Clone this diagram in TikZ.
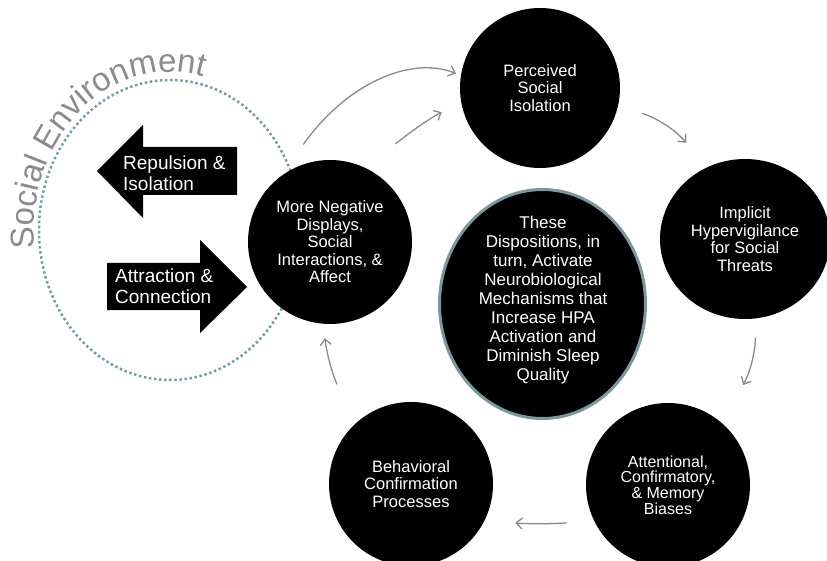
\documentclass[tikz,border=0pt]{standalone}
\usepackage{fontspec}
\setmainfont{Liberation Sans}
\usetikzlibrary{shapes.geometric, arrows.meta, decorations.text}
\definecolor{dotc}{RGB}{122,156,164}
\definecolor{rimc}{RGB}{125,150,155}
\definecolor{connc}{RGB}{138,138,138}
\definecolor{segray}{RGB}{140,140,140}
\begin{document}
\begin{tikzpicture}[x=1pt,y=-1pt,
  bub/.style={ellipse, fill=black, text=white, align=center, inner sep=0pt,
    font=\fontsize{16.5}{17.5}\selectfont},
  conn/.style={draw=connc, line width=1.3pt, -{Straight Barb[length=6pt,width=11pt]}},
  arrtxt/.style={text=white, align=left, inner sep=0pt, font=\fontsize{19}{20.5}\selectfont},
  blk/.style={fill=black}]
\useasboundingbox (0,0) rectangle (827,561);

% social environment dotted boundary
\draw[dotc, line width=2.5pt, dash pattern=on 2.5pt off 2.6pt] (170,230) ellipse [x radius=131, y radius=150];

% curved title
\path[decorate, decoration={text along path, text align=center,
  text={|\fontsize{33}{33}\selectfont\color{segray}|Social Environment}}]
  (36.1,257.4) arc[start angle=-190, end angle=-72, x radius=136, y radius=158];

% block arrows
\fill[blk] (97,171) -- (143,125) -- (143,147) -- (237,147) -- (237,195) -- (143,195) -- (143,218) -- cycle;
\fill[blk] (247,287) -- (200,240) -- (200,263) -- (107,263) -- (107,310) -- (200,310) -- (200,333) -- cycle;
\node[arrtxt, anchor=west] (rep) at (123,173) {Repulsion \&\\Isolation};
\node[arrtxt, anchor=west] (att) at (115,286) {Attraction \&\\Connection};

% circles
\node[bub, minimum width=160pt, minimum height=160pt] (pso) at (540,88) {Perceived\\Social\\Isolation};
\node[bub, minimum width=170pt, minimum height=160pt] (ihv) at (745,239) {Implicit\\Hypervigilance\\for Social\\Threats};
\node[bub, minimum width=164pt, minimum height=164pt, font=\fontsize{16}{15.8}\selectfont] (acm) at (668,485) {Attentional,\\Confirmatory,\\\& Memory\\Biases};
\node[bub, minimum width=164pt, minimum height=164pt] (bcp) at (411,484) {Behavioral\\Confirmation\\Processes};
\node[bub, minimum width=164pt, minimum height=164pt] (mng) at (330,242) {More Negative\\Displays,\\Social\\Interactions, \&\\Affect};

% central ellipse
\node[ellipse, fill=black, draw=rimc, line width=3pt, minimum width=206pt, minimum height=229pt, inner sep=0pt] (mech) at (542.5,304) {};
\node[text=white, align=center, inner sep=0pt, font=\fontsize{17}{19}\selectfont] (mechtxt) at (543,300)
  {These\\Dispositions, in\\turn, Activate\\Neurobiological\\Mechanisms that\\Increase HPA\\Activation and\\Diminish Sleep\\Quality};

% connectors
\draw[conn, shorten <=37.8pt, shorten >=5.3pt] (mng.126.4) .. controls (345,85) and (410,55) .. (pso.171.4);
\draw[conn, shorten <=38.7pt, shorten >=21.8pt] (mng.65.3) .. controls (412,131) and (427,120) .. (pso.190);
\draw[conn, shorten <=25.3pt, shorten >=32.3pt] (pso.348.4) .. controls (658,119) and (673,128) .. (ihv.117.8);
\draw[conn, shorten <=18.9pt, shorten >=43.8pt] (ihv.278.8) .. controls (755,352) and (751,370) .. (acm.48.5);
\draw[conn, shorten <=27.6pt, shorten >=31pt] (acm.206.3) .. controls (550,524) and (532,524) .. (bcp.333);
\draw[conn, shorten <=43.9pt, shorten >=14.4pt] (bcp.134.7) .. controls (331,370) and (327,354) .. (mng.265.2);
\end{tikzpicture}
\end{document}
